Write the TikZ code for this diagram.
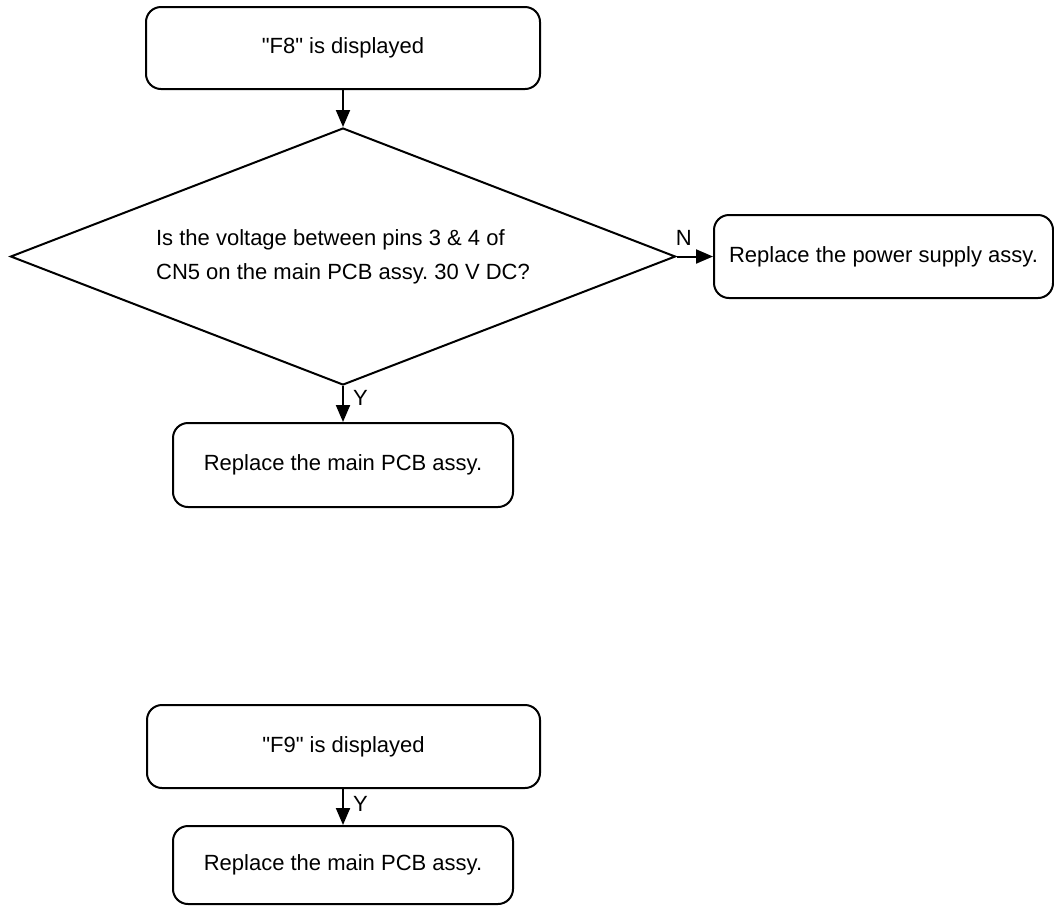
\documentclass[tikz,border=0pt]{standalone}
\usepackage{fontspec}
\setmainfont{Liberation Sans}[Ligatures=TeXOff]
\usetikzlibrary{shapes.geometric,arrows.meta}
\frenchspacing

\begin{document}
\begin{tikzpicture}[
  x=1pt,y=-1pt,
  font=\fontsize{22}{34}\selectfont,
  box/.style={draw, line width=2pt, rounded corners=15pt, align=center, inner sep=0pt},
  decision/.style={draw, line width=2pt, diamond, aspect=2.59, align=left, inner sep=0pt,
    minimum width=665pt, minimum height=257pt},
  arrow/.style={-{Triangle[length=17pt,width=14pt]}, line width=2pt},
  lbl/.style={inner sep=2pt}
]
\useasboundingbox (0,0) rectangle (1054,906);

% first fault
\node[box, minimum width=394pt, minimum height=82pt] (f8) at (343,48) {"F8" is displayed};
\node[decision] (check) at (343,256.5)
  {Is the voltage between pins 3 \& 4 of\\CN5 on the main PCB assy. 30 V DC?};
\node[box, minimum width=339pt, minimum height=83pt] (psu) at (883.5,256.5) {Replace the power supply assy.};
\node[box, minimum width=340pt, minimum height=84pt] (pcbA) at (343,465) {Replace the main PCB assy.};

\draw[arrow] (f8) -- (check);
\draw[arrow] (check.east) -- node[lbl, pos=0.2, above=8pt] (nlab) {N} (psu.west);
\draw[arrow] (check.south) -- node[lbl, pos=0.34, right=7pt] (ylabA) {Y} (pcbA.north);

% second fault
\node[box, minimum width=393pt, minimum height=83pt] (f9) at (343.5,746.5) {"F9" is displayed};
\node[box, minimum width=340pt, minimum height=78pt] (pcbB) at (343,865) {Replace the main PCB assy.};

\draw[arrow] (f9.south -| pcbB.north) -- node[lbl, pos=0.42, right=7pt] (ylabB) {Y} (pcbB.north);
\end{tikzpicture}
\end{document}
